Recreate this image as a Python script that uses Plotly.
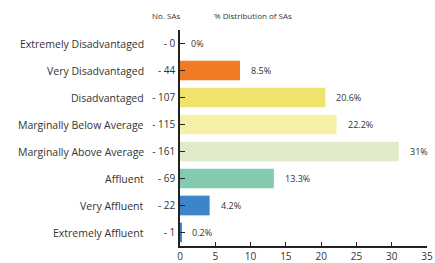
import plotly.graph_objects as go

categories = ["Extremely Disadvantaged", "Very Disadvantaged", "Disadvantaged",
              "Marginally Below Average", "Marginally Above Average", "Affluent",
              "Very Affluent", "Extremely Affluent"]
num_sas = [0, 44, 107, 115, 161, 69, 22, 1]
pct = [0, 8.5, 20.6, 22.2, 31, 13.3, 4.2, 0.2]
pct_labels = ["0%", "8.5%", "20.6%", "22.2%", "31%", "13.3%", "4.2%", "0.2%"]
colors = ["#EF7B22", "#EF7B22", "#EFE36E", "#F6F0A8", "#E2EBC9", "#83CBAF", "#3C85C9", "#3C85C9"]
x_ticks = [0, 5, 10, 15, 20, 25, 30, 35]

W, H = 435, 263
ML, MR, MT, MB = 180, 8, 30, 17
pw = W - ML - MR
ph = H - MT - MB

font = "Open Sans, Noto Sans, sans-serif"
txt = "#333333"

fig = go.Figure()
fig.add_trace(go.Bar(
    x=pct, y=categories, orientation="h",
    marker=dict(color=colors, line=dict(width=0)),
    hoverinfo="skip",
))

ann = []
for c, p, lab in zip(categories, pct, pct_labels):
    ann.append(dict(x=p, y=c, xref="x", yref="y", text=lab, showarrow=False,
                    xanchor="left", xshift=9, font=dict(size=9, color=txt, family=font)))
    ann.append(dict(x=(146 - ML) / pw, y=c, xref="paper", yref="y", text=c, showarrow=False,
                    xanchor="right", font=dict(size=10.5, color=txt, family=font)))

hy = 1 + (MT - 16) / ph
ann.append(dict(x=(166 - ML) / pw, y=hy, xref="paper", yref="paper",
                text="No. SAs", showarrow=False, xanchor="center", yanchor="middle",
                font=dict(size=8, color=txt, family=font)))
ann.append(dict(x=(253 - ML) / pw, y=hy, xref="paper", yref="paper",
                text="% Distribution of SAs", showarrow=False, xanchor="center", yanchor="middle",
                font=dict(size=8, color=txt, family=font)))

fig.update_layout(
    width=W, height=H,
    margin=dict(l=ML, r=MR, t=MT, b=MB),
    paper_bgcolor="white", plot_bgcolor="white",
    bargap=0.27,
    showlegend=False,
    annotations=ann,
    font=dict(family=font, color=txt),
)
fig.update_xaxes(
    range=[0, 35], tickvals=x_ticks, ticktext=[str(v) for v in x_ticks],
    showgrid=False, zeroline=False, showline=True, linecolor="#222222", linewidth=1.5,
    ticks="inside", ticklen=4, tickcolor="#222222", tickwidth=1.2, automargin=False,
    tickfont=dict(size=10, color=txt, family=font), ticklabelstandoff=0,
)
fig.update_yaxes(
    autorange="reversed", tickvals=categories, ticktext=["- " + str(n) for n in num_sas],
    showgrid=False, zeroline=False, showline=True, linecolor="#222222", linewidth=1.5,
    ticks="inside", ticklen=5, tickcolor="#222222", tickwidth=1.2, automargin=False,
    tickfont=dict(size=10, color=txt, family=font), ticklabelstandoff=1,
)

fig.write_html("out.html", config={"displayModeBar": False},
               post_script="document.body.style.margin='0';document.body.style.overflow='hidden';")
